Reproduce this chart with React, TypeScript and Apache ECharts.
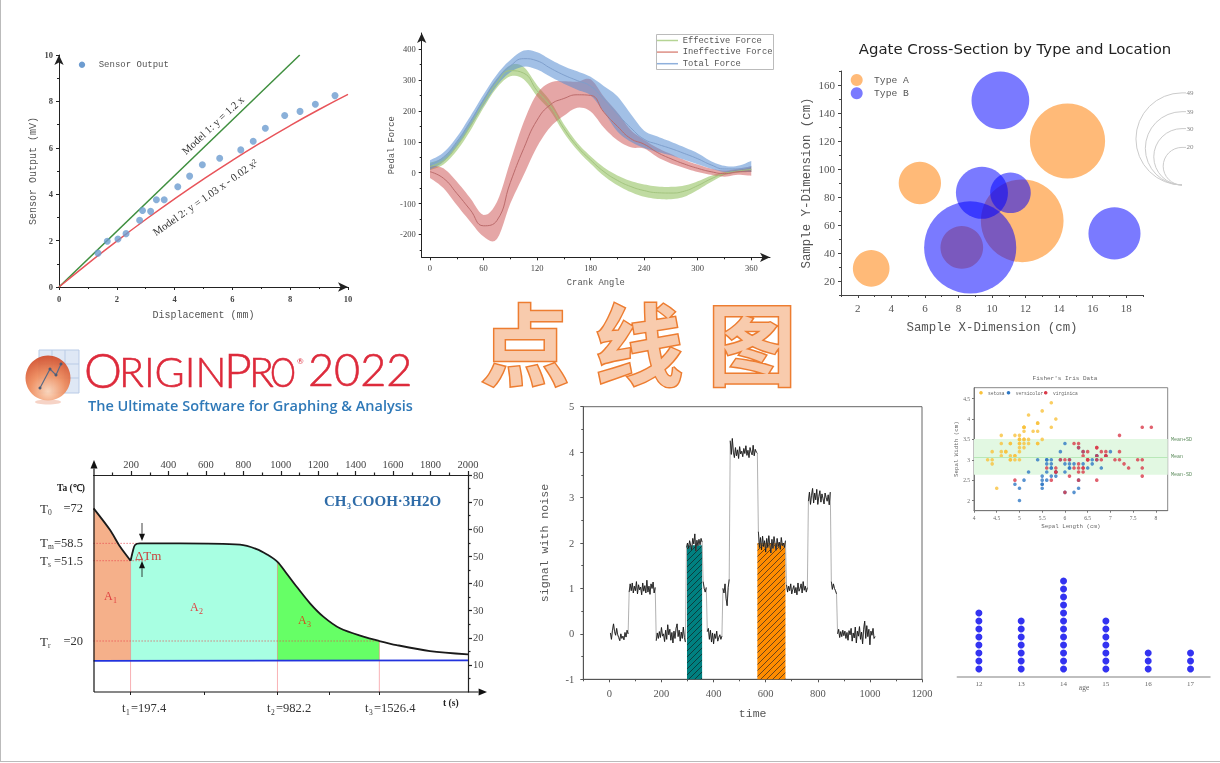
import React, { useEffect, useRef } from "react";
import * as echarts from "echarts";

const SERIF = '"Liberation Serif"';
const MONO = '"Liberation Mono"';

// ---- Panel 1: sensor output
const sensorX = [1.35, 1.67, 2.04, 2.32, 2.79, 2.89, 3.17, 3.37, 3.64, 4.11, 4.52, 4.96, 5.56, 6.29, 6.72, 7.14, 7.81, 8.34, 8.87, 9.55];
const sensorY = [1.46, 1.97, 2.07, 2.3, 2.88, 3.3, 3.26, 3.76, 3.76, 4.32, 4.78, 5.27, 5.55, 5.91, 6.28, 6.84, 7.39, 7.57, 7.88, 8.25];
const model1 = [[0, 0], [8.33, 10]];
const model2 = [[0, 0], [1, 1.01], [2, 1.98], [3, 2.91], [4, 3.8], [5, 4.65], [6, 5.46], [7, 6.23], [8, 6.96], [9, 7.65], [10, 8.3]];
const sensorMajor = [0, 2, 4, 6, 8, 10];
const sensorMinor = [1, 3, 5, 7, 9];

// ---- Panel 2: pedal force
const crankAngles = [0, 15, 30, 45, 60, 75, 90, 105, 120, 135, 150, 165, 180, 195, 210, 225, 240, 255, 270, 285, 300, 315, 330, 345, 360];
const effective = [20, 38, 85, 150, 225, 290, 330, 322, 265, 215, 143, 85, 41, 3, -25, -45, -58, -65, -66, -60, -42, -20, -3, 5, 10];
const effectiveHalf = [12, 12, 14, 15, 15, 15, 18, 20, 18, 16, 14, 12, 12, 14, 16, 18, 20, 20, 20, 18, 14, 10, 5, 5, 8];
const ineffective = [3, -18, -67, -120, -172, -155, -32, 78, 170, 220, 240, 252, 250, 195, 150, 110, 92, 65, 45, 28, 14, 3, -3, 3, 5];
const ineffectiveHalf = [20, 32, 38, 38, 35, 60, 68, 86, 86, 72, 56, 42, 52, 50, 45, 28, 14, 15, 15, 13, 12, 10, 10, 10, 15];
const total = [25, 50, 100, 165, 235, 300, 345, 369, 362, 338, 316, 298, 280, 238, 190, 145, 108, 92, 78, 62, 45, 25, 12, 12, 20];
const totalHalf = [15, 15, 15, 17, 18, 18, 20, 26, 28, 28, 28, 30, 30, 42, 57, 45, 28, 25, 22, 20, 18, 12, 10, 10, 18];
const crankMajor = [0, 60, 120, 180, 240, 300, 360];
const crankMinor = [30, 90, 150, 210, 270, 330];
const forceMajor = [-200, -100, 0, 100, 200, 300, 400];
const forceMinor = [-250, -150, -50, 50, 150, 250, 350];
const forceLegend = ["Effective Force", "Ineffective Force", "Total Force"];

// ---- Panel 3: agate bubbles [x, y, size]
const typeA = [[2.8, 29, 19.5], [5.7, 90, 22.5], [14.5, 120, 40], [11.8, 63, 44], [8.2, 44, 22.7]];
const typeB = [[10.5, 149, 30.7], [9.4, 83, 27.7], [11.1, 83, 21.6], [8.7, 44, 49], [17.3, 54, 27.7]];
const agateXMajor = [2, 4, 6, 8, 10, 12, 14, 16, 18];
const agateXMinor = [1, 3, 5, 7, 9, 11, 13, 15, 17, 19];
const agateYMajor = [20, 40, 60, 80, 100, 120, 140, 160];
const agateYMinor = [10, 30, 50, 70, 90, 110, 130, 150, 170];
const sizeLegend = [49, 39, 30, 20];

// ---- Panel 6: cooling curve
const coolingT = [0, 88, 141, 197.4];
const coolingV = [67.7, 59.7, 53.6, 48.4];
const plateauT = [197.4, 203, 209, 221, 248, 462, 782, 871, 924, 982.2, 1031, 1085, 1156, 1227, 1316, 1441, 1526.4, 1619, 1797, 2000];
const plateauV = [48.4, 50, 51.7, 54.2, 54.8, 54.8, 54.3, 52.7, 50.8, 48, 43.7, 38.8, 32.7, 27.8, 23.5, 20.4, 18.8, 17.3, 15.1, 13.9];
const baseline = 11.55;
const splitT = [0, 197.4, 982.2, 1526.4];
const areaColors = ["#f5b08a", "#a8ffe2", "#66ff66"];
const guideH = [[54.8, 250], [48.4, 285], [18.8, 1526.4]];
const guideV = [[197.4, 48.4], [982.2, 48], [1526.4, 18.8]];
const coolTopMajor = [200, 400, 600, 800, 1000, 1200, 1400, 1600, 1800, 2000];
const coolTopMinor = [100, 300, 500, 700, 900, 1100, 1300, 1500, 1700, 1900];
const coolBottom = [197.4, 590, 982.2, 1257, 1526.4];
const coolRightMajor = [10, 20, 30, 40, 50, 60, 70, 80];
const coolRightMinor = [5, 15, 25, 35, 45, 55, 65, 75];

// ---- Panel 7: noisy signal (one reading every 4 time units, from t = 4)
const signal = [
  0.02, -0.12, 0.08, 0.22, 0.05, -0.03, 0.12, -0.02, -0.08, -0.15, 0.0, -0.1, -0.05, -0.13, 0.03, -0.07, 0.08, 0.0,
  0.92, 1.1, 0.95, 1.12, 0.9, 1.05, 0.95, 1.15, 0.88, 1.08, 0.97, 1.03, 0.86, 1.12, 0.94, 1.06, 0.9, 1.18, 0.92, 1.05, 0.87, 1.1, 1.0, 1.14, 0.9, 1.02,
  -0.15, 0.02, -0.1, 0.05, -0.08, 0.14, -0.05, 0.0, -0.17, 0.08, -0.12, 0.2, -0.02, 0.1, -0.14, 0.03, -0.2, 0.06, -0.1, 0.12, 0.22, -0.06, 0.08, -0.16, 0.04, -0.1, 0.15, -0.08, -0.18,
  1.9, 2.0, 1.88, 2.05, 1.95, 1.85, 2.1, 1.98, 2.2, 1.82, 2.06, 1.94, 2.08, 1.96, 2.1, 2.02,
  1.15, 1.0, 0.92, 1.02,
  0.05, 0.12, -0.12, 0.08, -0.18, 0.02, -0.22, 0.0, -0.1, 0.06, -0.16, -0.08, -0.02, -0.12, -0.05,
  1.0, 0.9, 1.1, 0.78, 0.62, 1.02, 1.2,
  4.25, 3.95, 4.3, 4.0, 3.88, 4.1, 3.92, 4.05, 3.86, 4.12, 3.96, 4.02, 3.9, 4.08, 3.97, 4.14, 3.93, 4.04, 3.88, 4.1, 4.0, 3.94, 4.15, 3.92, 4.06, 4.0, 3.98,
  2.25, 1.9, 2.12, 1.85, 2.15, 1.92, 2.05, 1.8, 2.1, 1.9, 2.16, 1.95, 1.78, 2.08, 1.88, 2.14, 1.98, 1.84, 2.1, 1.92, 2.02, 1.86, 2.12, 1.94, 2.0, 1.9, 2.05,
  1.08, 0.92, 1.05, 0.95, 1.1, 0.88, 0.98, 1.06, 0.9, 1.02, 0.86, 1.12, 0.94, 1.0, 1.1, 0.9, 1.15, 0.96, 1.05, 0.92, 1.02,
  2.92, 3.12, 2.85, 3.05, 3.2, 2.88, 3.1, 2.95, 3.18, 2.85, 3.02, 3.15, 2.9, 3.08, 2.98, 2.86, 3.1, 3.0, 2.92, 3.06, 2.84, 3.12,
  1.15, 0.98, 1.1, 1.0, 0.95, 0.88,
  0.0, 0.1, -0.08, 0.05, -0.06, 0.08, -0.04, 0.06, -0.1, 0.03, -0.14, 0.07, -0.02, 0.12, -0.16, 0.02, -0.09, 0.15, -0.2, 0.06, -0.05, 0.16, -0.12, 0.04, -0.22, 0.1, 0.28, -0.1, 0.18, -0.06, 0.1, -0.24, 0.06, -0.03, 0.12, -0.1, -0.06,
];
const signalStep = 4;
const signalPlateauStarts = [18, 44, 73, 89, 93, 108, 115, 142, 169, 190, 212, 218];
const hatched = [[298, 356, 1.95, "#008080", "#0b3f3f"], [568, 676, 2.0, "#ff8c00", "#6e4418"]];
const timeMajor = [0, 200, 400, 600, 800, 1000, 1200];
const timeMinor = [-100, 100, 300, 500, 700, 900, 1100];
const signalMajor = [-1, 0, 1, 2, 3, 4, 5];
const signalMinor = [-0.5, 0.5, 1.5, 2.5, 3.5, 4.5];

// ---- Panel 8: Fisher's iris (sepal length, sepal width)
const setosaL = [5.1, 4.9, 4.7, 4.6, 5.0, 5.4, 4.6, 5.0, 4.4, 4.9, 5.4, 4.8, 4.8, 4.3, 5.8, 5.7, 5.4, 5.1, 5.7, 5.1, 5.4, 5.1, 4.6, 5.1, 4.8, 5.0, 5.0, 5.2, 5.2, 4.7, 4.8, 5.4, 5.2, 5.5, 4.9, 5.0, 5.5, 4.9, 4.4, 5.1, 5.0, 4.5, 4.4, 5.0, 5.1, 4.8, 5.1, 4.6, 5.3, 5.0];
const setosaW = [3.5, 3.0, 3.2, 3.1, 3.6, 3.9, 3.4, 3.4, 2.9, 3.1, 3.7, 3.4, 3.0, 3.0, 4.0, 4.4, 3.9, 3.5, 3.8, 3.8, 3.4, 3.7, 3.6, 3.3, 3.4, 3.0, 3.4, 3.5, 3.4, 3.2, 3.1, 3.4, 4.1, 4.2, 3.1, 3.2, 3.5, 3.6, 3.0, 3.4, 3.5, 2.3, 3.2, 3.5, 3.8, 3.0, 3.8, 3.2, 3.7, 3.3];
const versicolorL = [7.0, 6.4, 6.9, 5.5, 6.5, 5.7, 6.3, 4.9, 6.6, 5.2, 5.0, 5.9, 6.0, 6.1, 5.6, 6.7, 5.6, 5.8, 6.2, 5.6, 5.9, 6.1, 6.3, 6.1, 6.4, 6.6, 6.8, 6.7, 6.0, 5.7, 5.5, 5.5, 5.8, 6.0, 5.4, 6.0, 6.7, 6.3, 5.6, 5.5, 5.5, 6.1, 5.8, 5.0, 5.6, 5.7, 5.7, 6.2, 5.1, 5.7];
const versicolorW = [3.2, 3.2, 3.1, 2.3, 2.8, 2.8, 3.3, 2.4, 2.9, 2.7, 2.0, 3.0, 2.2, 2.9, 2.9, 3.1, 3.0, 2.7, 2.2, 2.5, 3.2, 2.8, 2.5, 2.8, 2.9, 3.0, 2.8, 3.0, 2.9, 2.6, 2.4, 2.4, 2.7, 2.7, 3.0, 3.4, 3.1, 2.3, 3.0, 2.5, 2.6, 3.0, 2.6, 2.3, 2.7, 3.0, 2.9, 2.9, 2.5, 2.8];
const virginicaL = [6.3, 5.8, 7.1, 6.3, 6.5, 7.6, 4.9, 7.3, 6.7, 7.2, 6.5, 6.4, 6.8, 5.7, 5.8, 6.4, 6.5, 7.7, 7.7, 6.0, 6.9, 5.6, 7.7, 6.3, 6.7, 7.2, 6.2, 6.1, 6.4, 7.2, 7.4, 7.9, 6.4, 6.3, 6.1, 7.7, 6.3, 6.4, 6.0, 6.9, 6.7, 6.9, 5.8, 6.8, 6.7, 6.7, 6.3, 6.5, 6.2, 5.9];
const virginicaW = [3.3, 2.7, 3.0, 2.9, 3.0, 3.0, 2.5, 2.9, 2.5, 3.6, 3.2, 2.7, 3.0, 2.5, 2.8, 3.2, 3.0, 3.8, 2.6, 2.2, 3.2, 2.8, 2.8, 2.7, 3.3, 3.2, 2.8, 3.0, 2.8, 3.0, 2.8, 3.8, 2.8, 2.8, 2.6, 3.0, 3.4, 3.1, 3.0, 3.1, 3.1, 3.1, 2.7, 3.2, 3.3, 3.0, 2.5, 3.0, 3.4, 3.0];
const irisNames = ["setosa", "versicolor", "virginica"];
const irisColors = ["#f9c23c", "#2f78c4", "#d93a4a"];
const irisMean = 3.06;
const irisLow = 2.63;
const irisHigh = 3.51;
const irisXMajor = [4, 4.5, 5, 5.5, 6, 6.5, 7, 7.5, 8];
const irisYMajor = [2, 2.5, 3, 3.5, 4, 4.5];

// ---- Panel 9: age dot plot
const ages = [12, 13, 14, 15, 16, 17];
const ageCounts = [8, 7, 12, 7, 3, 3];

// ---- helpers
const T = (text: string, x: number, y: number, o: any = {}) => ({
  type: "text",
  x,
  y,
  scaleX: o.scaleX ?? 1,
  rotation: o.rotate || 0,
  z: o.z ?? 100,
  style: {
    text,
    fontFamily: o.font || SERIF,
    fontSize: o.size || 10,
    fontWeight: o.weight || "normal",
    fill: o.color || "#444",
    stroke: o.stroke,
    lineWidth: o.lineWidth,
    align: o.align || "left",
    verticalAlign: "middle",
    textAlign: o.align || "left",
    textVerticalAlign: "middle",
  },
});
const arrow = (x1: number, y1: number, x2: number, y2: number, size = 4, w = 1.2) => {
  const a = Math.atan2(y2 - y1, x2 - x1);
  const bx = x2 - Math.cos(a) * size * 2.4;
  const by = y2 - Math.sin(a) * size * 2.4;
  const nx = -Math.sin(a) * size;
  const ny = Math.cos(a) * size;
  return [
    { type: "line", z: 100, shape: { x1, y1, x2: bx, y2: by }, style: { stroke: "#111", lineWidth: w } },
    { type: "polygon", z: 100, shape: { points: [[x2, y2], [bx + nx, by + ny], [bx - nx, by - ny]] }, style: { fill: "#111" } },
  ];
};
// Rounds a polyline of screen points into a curve, for drawing the band edges.
const rounded = (p: number[][]) => {
  const out: number[][] = [];
  for (let i = 0; i < p.length - 1; i++) {
    const a = p[Math.max(i - 1, 0)];
    const b = p[i];
    const c = p[i + 1];
    const d = p[Math.min(i + 2, p.length - 1)];
    for (let s = 0; s < 6; s++) {
      const t = s / 6;
      const t2 = t * t;
      const t3 = t2 * t;
      const f = (k: number) => 0.5 * (2 * b[k] + (c[k] - a[k]) * t + (2 * a[k] - 5 * b[k] + 4 * c[k] - d[k]) * t2 + (3 * b[k] - a[k] - 3 * c[k] + d[k]) * t3);
      out.push([f(0), f(1)]);
    }
  }
  out.push(p[p.length - 1]);
  return out;
};

function build() {
  const grids: any[] = [];
  const xAxes: any[] = [];
  const yAxes: any[] = [];
  const series: any[] = [];
  const graphic: any[] = [];

  const axis = (list: any[], grid: number, o: any) => {
    const base = { gridIndex: grid, type: "value", min: o.min, max: o.max, position: o.position, splitLine: { show: false } };
    const idx = list.length;
    const lc = { color: o.color || "#333", width: o.width || 1 };
    list.push({
      ...base,
      axisLine: { show: o.line !== false, onZero: false, symbol: o.arrow ? ["none", "arrow"] : "none", symbolSize: [7, 10], lineStyle: lc },
      axisTick: { show: !!o.major, customValues: o.major, length: o.tick ?? 3, inside: !!o.inside, lineStyle: lc },
      axisLabel: {
        show: !!o.labels,
        customValues: o.labels,
        formatter: (v: number) => String(v),
        fontFamily: o.font || SERIF,
        fontSize: o.size || 9,
        fontWeight: o.weight || "normal",
        color: o.labelColor || "#444",
        margin: o.margin ?? 6,
      },
      name: o.name,
      nameLocation: "middle",
      nameGap: o.nameGap,
      nameTextStyle: { fontFamily: MONO, fontSize: o.nameSize || 10, color: o.nameColor || "#555" },
    });
    if (o.minor) {
      list.push({
        ...base,
        axisLine: { show: false, onZero: false },
        axisTick: { show: true, customValues: o.minor, length: o.minorTick ?? 2, inside: !!o.inside, lineStyle: lc },
        axisLabel: { show: false },
      });
    }
    return idx;
  };

  // Panel 1
  {
    const g = grids.push({ left: 59, top: 55, width: 289, height: 232 }) - 1;
    const xi = axis(xAxes, g, { min: 0, max: 10, position: "bottom", arrow: true, major: sensorMajor, minor: sensorMinor, labels: sensorMajor, size: 8.5, weight: "bold", color: "#222", name: "Displacement (mm)", nameGap: 23, nameSize: 10, margin: 7 });
    const yi = axis(yAxes, g, { min: 0, max: 10, position: "left", arrow: true, major: sensorMajor, minor: sensorMinor, labels: sensorMajor, size: 8.5, weight: "bold", color: "#222", name: "Sensor Output (mV)", nameGap: 21, nameSize: 10, margin: 6 });
    series.push(
      { type: "line", xAxisIndex: xi, yAxisIndex: yi, data: model1, showSymbol: false, lineStyle: { color: "#3f8f3f", width: 1.5 } },
      { type: "line", xAxisIndex: xi, yAxisIndex: yi, data: model2, smooth: true, showSymbol: false, lineStyle: { color: "#e8545a", width: 1.5 } },
      { type: "scatter", xAxisIndex: xi, yAxisIndex: yi, data: sensorX.map((x, i) => [x, sensorY[i]]), symbolSize: 7, itemStyle: { color: "#6d9cd0" }, z: 5 }
    );
    graphic.push(
      { type: "circle", z: 100, shape: { cx: 82, cy: 64.7, r: 3.2 }, style: { fill: "#6d9cd0" } },
      T("Sensor Output", 98.7, 65, { font: MONO, size: 9, color: "#555" }),
      T("Model 1: y = 1.2 x", 212.7, 125, { size: 10.8, color: "#333", align: "center", rotate: (43 * Math.PI) / 180 }),
      T("Model 2: y = 1.03 x - 0.02 x\u00b2", 205, 197, { size: 10.8, color: "#333", align: "center", rotate: (35 * Math.PI) / 180 })
    );
  }

  // Panel 2
  {
    const g = grids.push({ left: 421.7, top: 33, width: 348.3, height: 224.3 }) - 1;
    const xi = axis(xAxes, g, { min: -9.3, max: 381, position: "bottom", arrow: true, major: crankMajor, minor: crankMinor, labels: crankMajor, size: 8.5, color: "#222", name: "Crank Angle", nameGap: 21, nameSize: 8.8 });
    const yi = axis(yAxes, g, { min: -274, max: 452, position: "left", arrow: true, major: forceMajor, minor: forceMinor, labels: forceMajor, size: 8.5, color: "#222", name: "Pedal Force", nameGap: 16, nameSize: 8.8 });
    const band = (c: number[], h: number[], fill: string, line: string) => {
      series.push({
        type: "custom",
        xAxisIndex: xi,
        yAxisIndex: yi,
        coordinateSystem: "cartesian2d",
        clip: false,
        silent: true,
        data: crankAngles.map((a, i) => [a, c[i]]),
        encode: { x: 0, y: 1 },
        renderItem: (p: any, api: any) => {
          if (p.dataIndex !== 0) return null;
          const up = rounded(crankAngles.map((a, i) => api.coord([a, c[i] + h[i]])));
          const dn = rounded(crankAngles.map((a, i) => api.coord([a, c[i] - h[i]]))).reverse();
          return { type: "polygon", shape: { points: [...up, ...dn] }, style: { fill, stroke: "none" } };
        },
      });
      series.push({ type: "line", xAxisIndex: xi, yAxisIndex: yi, data: crankAngles.map((a, i) => [a, c[i]]), smooth: true, showSymbol: false, lineStyle: { color: line, width: 1 } });
    };
    band(effective, effectiveHalf, "rgba(150,195,100,0.6)", "#a3c47f");
    band(ineffective, ineffectiveHalf, "rgba(205,85,85,0.52)", "#bb6b6b");
    band(total, totalHalf, "rgba(85,140,210,0.55)", "#7f9fcc");
    const lc = ["#b5d494", "#dd8f85", "#8fb0dc"];
    graphic.push({ type: "rect", z: 100, shape: { x: 656.5, y: 34.5, width: 117, height: 35 }, style: { fill: "rgba(255,255,255,0.85)", stroke: "#bbb", lineWidth: 1 } });
    forceLegend.forEach((n, i) => {
      const y = 40.5 + i * 11.6;
      graphic.push(
        { type: "line", z: 101, shape: { x1: 657, y1: y, x2: 678, y2: y }, style: { stroke: lc[i], lineWidth: 1.5 } },
        T(n, 682.7, y, { font: MONO, size: 8.8, color: "#555", z: 101 })
      );
    });
  }

  // Panel 3
  {
    const g = grids.push({ left: 841, top: 71, width: 302, height: 224 }) - 1;
    const xi = axis(xAxes, g, { min: 1, max: 19, position: "bottom", major: agateXMajor, minor: agateXMinor, labels: agateXMajor, size: 11, color: "#444", labelColor: "#555", name: "Sample X-Dimension (cm)", nameGap: 27, nameSize: 12.4, margin: 7 });
    const yi = axis(yAxes, g, { min: 10, max: 170, position: "left", major: agateYMajor, minor: agateYMinor, labels: agateYMajor, size: 11, color: "#444", labelColor: "#555", name: "Sample Y-Dimension (cm)", nameGap: 28, nameSize: 12.4, margin: 6 });
    const bubble = (data: number[][], color: string) =>
      series.push({ type: "scatter", xAxisIndex: xi, yAxisIndex: yi, data, symbolSize: (d: number[]) => d[2] * 1.88, itemStyle: { color, opacity: 1 }, z: 4 });
    bubble(typeA, "rgba(255,140,30,0.6)");
    bubble(typeB, "rgba(0,0,255,0.52)");
    graphic.push(
      T("Agate Cross-Section by Type and Location", 1015, 49, { font: '"DejaVu Sans"', size: 14.9, color: "#222", align: "center" }),
      { type: "circle", z: 100, shape: { cx: 856.7, cy: 80, r: 6 }, style: { fill: "rgba(255,140,30,0.6)" } },
      { type: "circle", z: 100, shape: { cx: 856.7, cy: 93.3, r: 6 }, style: { fill: "rgba(0,0,255,0.52)" } },
      T("Type A", 874, 80, { font: MONO, size: 9.7, color: "#555" }),
      T("Type B", 874, 93.3, { font: MONO, size: 9.7, color: "#555" })
    );
    sizeLegend.forEach((v) => {
      const d = v * 1.88;
      graphic.push(
        { type: "arc", z: 100, shape: { cx: 1182, cy: 185 - d / 2, r: d / 2, startAngle: Math.PI / 2, endAngle: (3 * Math.PI) / 2, clockwise: true }, style: { stroke: "#ccc", fill: "none", lineWidth: 1 } },
        { type: "line", z: 100, shape: { x1: 1182, y1: 185 - d, x2: 1186, y2: 185 - d }, style: { stroke: "#ccc", lineWidth: 1 } },
        T(String(v), 1186.5, 185 - d, { size: 7, color: "#888" })
      );
    });
  }

  // Panel 4: logo
  {
    const cols = [39, 52, 65, 79];
    const rows = [350, 364, 378, 393];
    graphic.push({ type: "rect", z: 90, shape: { x: 39, y: 350, width: 40, height: 43 }, style: { fill: "#dfe8f5" } });
    cols.forEach((x) => graphic.push({ type: "line", z: 91, shape: { x1: x, y1: 350, x2: x, y2: 393 }, style: { stroke: "#b9cbe6", lineWidth: 1 } }));
    rows.forEach((y) => graphic.push({ type: "line", z: 91, shape: { x1: 39, y1: y, x2: 79, y2: y }, style: { stroke: "#b9cbe6", lineWidth: 1 } }));
    graphic.push(
      { type: "ellipse", z: 91, shape: { cx: 48, cy: 402, rx: 13, ry: 2.5 }, style: { fill: "#f6d3c6" } },
      {
        type: "circle",
        z: 92,
        shape: { cx: 48, cy: 378, r: 22.5 },
        style: {
          opacity: 0.92,
          fill: { type: "radial", x: 0.5, y: 0.8, r: 0.8, colorStops: [{ offset: 0, color: "#fbd4b8" }, { offset: 0.5, color: "#ee8a5a" }, { offset: 1, color: "#d04a28" }] },
        },
      },
      { type: "polyline", z: 93, shape: { points: [[40, 388], [50, 369], [56, 375], [61, 364]] }, style: { stroke: "#5b6b85", lineWidth: 1.2, fill: "none" } }
    );
    [[40, 388], [50, 369], [56, 375], [61, 364]].forEach(([cx, cy]) => graphic.push({ type: "circle", z: 94, shape: { cx, cy, r: 1.5 }, style: { fill: "#4b5b75" } }));
    const red = "#dd2a3b";
    const s = { font: "Lato", color: red, weight: 300, stroke: red, lineWidth: 0.6 };
    graphic.push(
      T("O", 84, 369, { ...s, size: 48 }),
      T("RIGIN", 119, 371, { ...s, size: 41 }),
      T("P", 224, 369, { ...s, size: 48 }),
      T("R", 249, 371, { ...s, size: 41 }),
      T("O", 270, 371, { ...s, size: 41, scaleX: 0.8 }),
      T("\u00ae", 297, 361, { font: "Lato", size: 8, color: red }),
      T("2022", 308, 369, { ...s, size: 45 }),
      T("The Ultimate Software for Graphing & Analysis", 88, 405, { font: '"Open Sans"', size: 14.5, color: "#2f79b8", weight: 600 })
    );
  }

  // Panel 5: title glyphs
  [["\u70b9", 525], ["\u7ebf", 639], ["\u56fe", 752]].forEach(([c, x]: any) =>
    graphic.push(T(c, x, 339, { font: '"Noto Sans CJK SC"', size: 88, weight: 700, color: "#f8cbad", stroke: "#ed7d31", lineWidth: 3, align: "center" }))
  );

  // Panel 6
  {
    const g = grids.push({ left: 93.6, top: 475, width: 374.4, height: 217 }) - 1;
    const xi = axis(xAxes, g, { min: 0, max: 2000, position: "bottom", line: false, major: coolBottom, tick: 3, inside: false, color: "#222" });
    axis(xAxes, g, { min: 0, max: 2000, position: "top", width: 1.2, major: coolTopMajor, minor: coolTopMinor, labels: coolTopMajor, tick: 4, minorTick: 2.5, size: 10.5, color: "#222", margin: 5 });
    const yi = axis(yAxes, g, { min: 0, max: 80, position: "left", line: false });
    axis(yAxes, g, { min: 0, max: 80, position: "right", width: 1.2, major: coolRightMajor, minor: coolRightMinor, labels: coolRightMajor, tick: 4, minorTick: 2.5, size: 10.5, color: "#222", margin: 5 });
    const cooling = coolingT.map((t, i) => [t, coolingV[i]]);
    const plateau = plateauT.map((t, i) => [t, plateauV[i]]);
    const pts = [...cooling, ...plateau];
    splitT.slice(0, 3).forEach((s, i) => {
      series.push({
        type: "line",
        xAxisIndex: xi,
        yAxisIndex: yi,
        data: (i === 0 ? cooling : plateau).filter((p) => p[0] >= s && p[0] <= splitT[i + 1]),
        showSymbol: false,
        smooth: 0.3,
        lineStyle: { width: 0 },
        areaStyle: { color: areaColors[i], opacity: 1, origin: baseline },
        z: 1,
      });
    });
    series.push({ type: "line", xAxisIndex: xi, yAxisIndex: yi, data: [[0, baseline - 0.1], [2000, baseline + 0.1]], showSymbol: false, lineStyle: { color: "#2233dd", width: 1.8 }, z: 3 });
    guideV.forEach(([t, v]) =>
      series.push({ type: "line", xAxisIndex: xi, yAxisIndex: yi, data: [[t, v], [t, 0]], showSymbol: false, lineStyle: { color: "rgba(240,90,100,0.6)", width: 0.8 }, z: 2 })
    );
    guideH.forEach(([v, t]) =>
      series.push({ type: "line", xAxisIndex: xi, yAxisIndex: yi, data: [[0, v], [t, v]], showSymbol: false, lineStyle: { color: "#e8404a", width: 1, type: [1, 2] }, z: 2 })
    );
    series.push({ type: "line", xAxisIndex: xi, yAxisIndex: yi, data: cooling, showSymbol: false, smooth: 0.3, lineStyle: { color: "#1a1a1a", width: 1.8 }, z: 4 });
    series.push({ type: "line", xAxisIndex: xi, yAxisIndex: yi, data: plateau, showSymbol: false, smooth: 0.3, lineStyle: { color: "#1a1a1a", width: 1.8 }, z: 4 });
    graphic.push(...arrow(94, 692, 94, 460, 3.5), ...arrow(94, 692, 487, 692, 3.5));
    graphic.push(...arrow(142, 523, 142, 541, 3, 0.8), ...arrow(142, 577, 142, 561, 3, 0.8));
    const lab = (main: string, sub: string, rest: string, y: number) => {
      graphic.push(T(main, 40, y, { size: 13, color: "#333" }), T(sub, 48, y + 4, { size: 7.5, color: "#333" }), T(rest, 83, y, { size: 12.5, color: "#333", align: "right" }));
    };
    lab("T", "0", "=72", 508);
    lab("T", "m", "=58.5", 542.7);
    lab("T", "s", "=51.5", 560.7);
    lab("T", "r", "=20", 641);
    const tl = (x: number, sub: string, rest: string) => {
      graphic.push(T("t", x, 708, { size: 12.5, color: "#333" }), T(sub, x + 4, 712, { size: 7.5, color: "#333" }), T(rest, x + 9, 708, { size: 12.5, color: "#333" }));
    };
    tl(122, "1", "=197.4");
    tl(267, "2", "=982.2");
    tl(365, "3", "=1526.4");
    graphic.push(
      T("Ta (\u2103)", 57, 488, { size: 9.5, weight: "bold", color: "#222" }),
      T("t (s)", 443, 703, { size: 9.5, weight: "bold", color: "#222" }),
      T("CH", 324, 501, { size: 15, weight: "bold", color: "#2f6ca8" }),
      T("3", 347, 506, { size: 8, weight: "bold", color: "#2f6ca8" }),
      T("COOH\u00b73H2O", 352, 501, { size: 15, weight: "bold", color: "#2f6ca8" }),
      T("\u0394Tm", 135, 555, { size: 13, color: "#c8413c" }),
      T("A", 104, 596, { size: 12, color: "#e04040" }),
      T("1", 113, 600, { size: 8, color: "#e04040" }),
      T("A", 190, 607, { size: 12, color: "#e04040" }),
      T("2", 199, 611, { size: 8, color: "#e04040" }),
      T("A", 298, 620, { size: 12, color: "#d05020" }),
      T("3", 307, 624, { size: 8, color: "#d05020" })
    );
  }

  // Panel 7
  {
    const g = grids.push({ left: 583.3, top: 406.7, width: 338.7, height: 272.6, show: true, borderColor: "#666", borderWidth: 1, backgroundColor: "transparent" }) - 1;
    const xi = axis(xAxes, g, { min: -100, max: 1200, position: "bottom", color: "#555", major: timeMajor, minor: timeMinor, labels: timeMajor, size: 10.5, labelColor: "#555", name: "time", nameGap: 28, nameSize: 11.5, margin: 9 });
    const yi = axis(yAxes, g, { min: -1, max: 5, position: "left", color: "#555", major: signalMajor, minor: signalMinor, labels: signalMajor, size: 10.5, labelColor: "#555", name: "signal with noise", nameGap: 33, nameSize: 11.6, margin: 9 });
    hatched.forEach(([x0, x1, top, fill, line]: any) => {
      const c = document.createElement("canvas");
      c.width = 6;
      c.height = 6;
      const ctx = c.getContext("2d")!;
      ctx.fillStyle = fill;
      ctx.fillRect(0, 0, 6, 6);
      ctx.strokeStyle = line;
      ctx.lineWidth = 1;
      ctx.beginPath();
      ctx.moveTo(-1, 1);
      ctx.lineTo(1, -1);
      ctx.moveTo(-1, 7);
      ctx.lineTo(7, -1);
      ctx.moveTo(5, 7);
      ctx.lineTo(7, 5);
      ctx.stroke();
      series.push({
        type: "custom",
        xAxisIndex: xi,
        yAxisIndex: yi,
        coordinateSystem: "cartesian2d",
        silent: true,
        z: 1,
        data: [[x0, -1, x1, top]],
        encode: { x: [0, 2], y: [1, 3] },
        renderItem: (_p: any, api: any) => {
          const a = api.coord([api.value(0), api.value(3)]);
          const b = api.coord([api.value(2), api.value(1)]);
          return { type: "rect", shape: { x: a[0], y: a[1], width: b[0] - a[0], height: b[1] - a[1] }, style: { fill: { image: c, repeat: "repeat" } } };
        },
      });
    });
    const sig = signal.map((v, i) => [signalStep * (i + 1), v]);
    series.push({ type: "line", xAxisIndex: xi, yAxisIndex: yi, data: sig, showSymbol: false, lineStyle: { color: "#a8a8a8", width: 0.9 }, z: 3 });
    series.push({
      type: "line",
      xAxisIndex: xi,
      yAxisIndex: yi,
      data: sig.flatMap((p, i) => (signalPlateauStarts.includes(i) ? [[p[0] - 2, null], p] : [p])),
      connectNulls: false,
      showSymbol: false,
      lineStyle: { color: "#111", width: 0.8 },
      z: 4,
    });
  }

  // Panel 8
  {
    const g = grids.push({ left: 974, top: 387.7, width: 193.7, height: 123, show: true, borderColor: "#888", borderWidth: 1, backgroundColor: "transparent" }) - 1;
    const xi = axis(xAxes, g, { min: 4, max: 8.26, position: "bottom", color: "#777", major: irisXMajor, labels: irisXMajor, tick: 2, size: 5.5, labelColor: "#666", name: "Sepal Length (cm)", nameGap: 13, nameSize: 5.8, nameColor: "#666", margin: 4 });
    const yi = axis(yAxes, g, { min: 1.75, max: 4.77, position: "left", color: "#777", major: irisYMajor, labels: irisYMajor, tick: 2, size: 5.5, labelColor: "#666", name: "Sepal Width (cm)", nameGap: 14, nameSize: 5.8, nameColor: "#666", margin: 4 });
    const sets = [[setosaL, setosaW], [versicolorL, versicolorW], [virginicaL, virginicaW]];
    sets.forEach(([l, w], i) => {
      series.push({
        type: "scatter",
        xAxisIndex: xi,
        yAxisIndex: yi,
        data: l.map((x, k) => [x, w[k]]),
        symbolSize: 3.6,
        itemStyle: { color: irisColors[i] },
        z: 4,
        ...(i === 0
          ? {
              markArea: { silent: true, itemStyle: { color: "#e2f8e2" }, data: [[{ yAxis: irisLow }, { yAxis: irisHigh }]], z: 1 },
              markLine: { silent: true, symbol: "none", label: { show: false }, lineStyle: { color: "#b8e8b8", width: 1, type: "solid" }, data: [{ yAxis: irisMean }] },
            }
          : {}),
      });
    });
    const lx = [[981, 988], [1008.5, 1015.7], [1045.7, 1053]];
    irisNames.forEach((n, i) => {
      graphic.push(
        { type: "circle", z: 100, shape: { cx: lx[i][0], cy: 392.7, r: 1.8 }, style: { fill: irisColors[i] } },
        T(n, lx[i][1], 393, { font: MONO, size: 4.6, color: "#666" })
      );
    });
    graphic.push(
      T("Fisher's Iris Data", 1065, 378, { font: MONO, size: 6, color: "#666", align: "center" }),
      T("Mean+SD", 1171, 440, { font: MONO, size: 5, color: "#5a8a5a" }),
      T("Mean", 1171, 457, { font: MONO, size: 5, color: "#5a8a5a" }),
      T("Mean-SD", 1171, 475, { font: MONO, size: 5, color: "#5a8a5a" })
    );
  }

  // Panel 9
  {
    const g = grids.push({ left: 957.3, top: 573, width: 252.7, height: 104 }) - 1;
    const xi = axis(xAxes, g, { min: 11.49, max: 17.46, position: "bottom", color: "#aaa", width: 1.5, labels: ages, size: 7, labelColor: "#666", margin: 3 });
    const yi = axis(yAxes, g, { min: 0, max: 13, position: "left", line: false });
    const dots: number[][] = [];
    ages.forEach((a, i) => {
      for (let k = 1; k <= ageCounts[i]; k++) dots.push([a, k]);
    });
    series.push({ type: "scatter", xAxisIndex: xi, yAxisIndex: yi, data: dots, symbolSize: 7, itemStyle: { color: "#0000ee" } });
    graphic.push(T("age", 1084, 687, { size: 7.5, color: "#666", align: "center" }));
  }

  // Page edge
  graphic.push(
    { type: "line", z: 100, shape: { x1: 0.5, y1: 0, x2: 0.5, y2: 762 }, style: { stroke: "#bbb", lineWidth: 1 } },
    { type: "line", z: 100, shape: { x1: 0, y1: 761.5, x2: 1220, y2: 761.5 }, style: { stroke: "#bbb", lineWidth: 1 } }
  );

  return {
    animation: false,
    backgroundColor: "#fff",
    grid: grids,
    xAxis: xAxes,
    yAxis: yAxes,
    series,
    graphic: { elements: graphic },
  };
}

export default function App() {
  const ref = useRef<HTMLDivElement>(null);
  useEffect(() => {
    const chart = echarts.init(ref.current!, undefined, { renderer: "svg" });
    chart.setOption(build() as any);
    return () => chart.dispose();
  }, []);
  return <div ref={ref} style={{ position: "absolute", left: 0, top: 0, width: 1220, height: 763, filter: "blur(0.4px)" }} />;
}
